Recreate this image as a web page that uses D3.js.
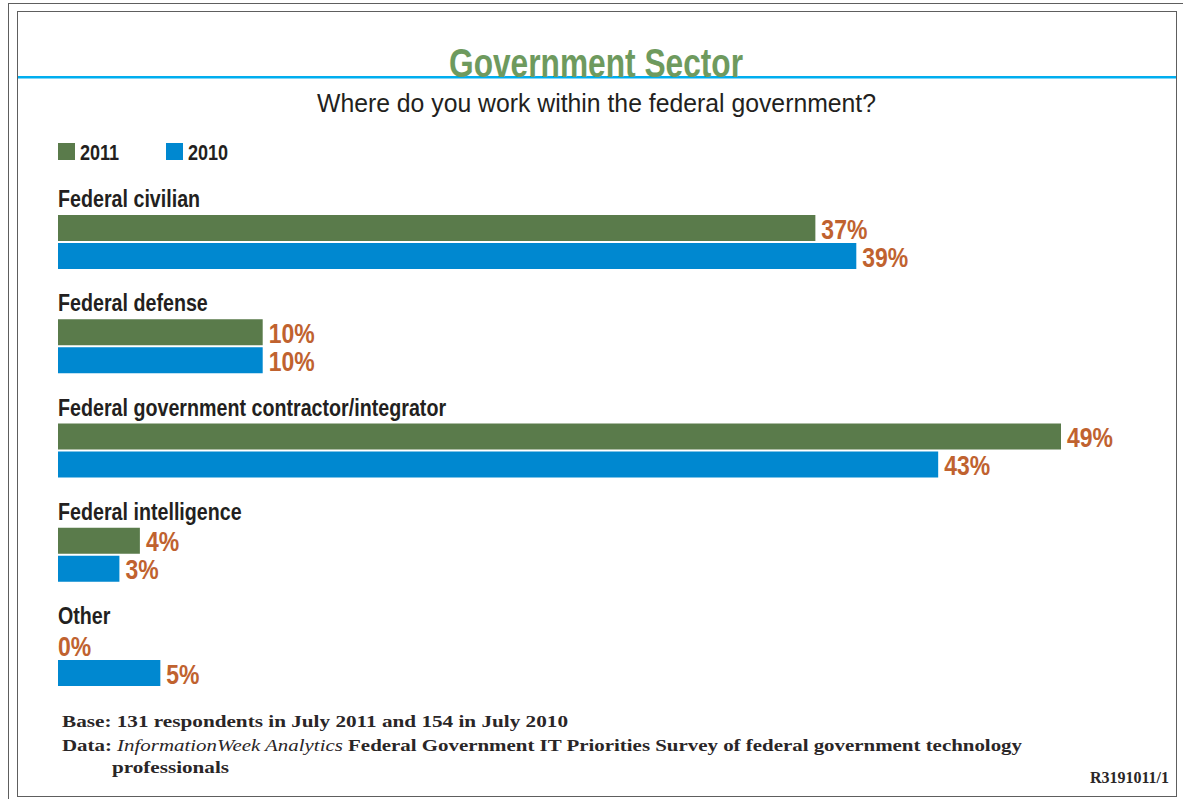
<!DOCTYPE html>
<html>
<head>
<meta charset="utf-8">
<script src="https://cdn.jsdelivr.net/npm/d3@7/dist/d3.min.js"></script>
<style>
  html, body { margin: 0; padding: 0; background: #fff; }
  svg { display: block; }
</style>
</head>
<body>
<svg id="chart" width="1183" height="799"></svg>
<script>
// Survey answers: share of respondents by workplace, 2011 vs 2010
const categories = [
  "Federal civilian",
  "Federal defense",
  "Federal government contractor/integrator",
  "Federal intelligence",
  "Other"
];
const seriesNames = ["2011", "2010"];
const values2011 = [37, 10, 49, 4, 0];
const values2010 = [39, 10, 43, 3, 5];

const title = "Government Sector";
const subtitle = "Where do you work within the federal government?";
const baseNote = "Base: 131 respondents in July 2011 and 154 in July 2010";
const sourceNote = ["Data: ", "InformationWeek Analytics", " Federal Government IT Priorities Survey of federal government technology"];
const sourceNote2 = "professionals";
const reportId = "R3191011/1";

const colors = { "2011": "#5a7b4b", "2010": "#0088d0" };
const labelColor = "#c0622f";
const ink = "#231f20";
const narrow = 0.82; // horizontal squeeze for a condensed look

const svg = d3.select("#chart");

// page frame
const frame = svg.append("g").attr("fill", "none").attr("stroke", "#5e5e5e").attr("stroke-width", 1);
frame.append("line").attr("x1", 8.5).attr("y1", 3).attr("x2", 8.5).attr("y2", 799);
frame.append("line").attr("x1", 8).attr("y1", 3.5).attr("x2", 1183).attr("y2", 3.5);
frame.append("rect").attr("x", 17.5).attr("y", 11.5).attr("width", 1159).attr("height", 785);

// header rule and title
svg.append("rect").attr("x", 18).attr("y", 76).attr("width", 1158).attr("height", 2.5).attr("fill", "#00aeef");
svg.append("text")
  .attr("x", 596).attr("y", 77)
  .attr("text-anchor", "middle")
  .attr("font-family", "Liberation Sans, Arial, sans-serif")
  .attr("font-weight", 700)
  .attr("font-size", 41)
  .attr("fill", "#6e9a5e")
  .attr("textLength", 294).attr("lengthAdjust", "spacingAndGlyphs")
  .text(title);
svg.append("text")
  .attr("x", 596.5).attr("y", 112)
  .attr("text-anchor", "middle")
  .attr("font-family", "Liberation Sans, Arial, sans-serif")
  .attr("font-size", 25)
  .attr("fill", ink)
  .attr("textLength", 559).attr("lengthAdjust", "spacingAndGlyphs")
  .text(subtitle);

// scales
const x = d3.scaleLinear().domain([0, 49]).range([58, 1061]);
const y = d3.scaleBand().domain(categories).range([215, 215 + 104.25 * categories.length]).paddingInner(0).paddingOuter(0);
const ySeries = d3.scaleBand().domain(seriesNames).range([0, 54]).paddingInner(2 / 28);

// legend
const legend = svg.append("g");
const legendX = d3.scalePoint().domain(seriesNames).range([58, 166]);
seriesNames.forEach(s => {
  legend.append("rect").attr("x", legendX(s)).attr("y", 143).attr("width", 17).attr("height", 17).attr("fill", colors[s]);
  legend.append("g")
    .attr("transform", `translate(${legendX(s) + 22},159.5) scale(${narrow},1)`)
    .append("text")
    .attr("font-family", "Liberation Sans, Arial, sans-serif")
    .attr("font-weight", 700).attr("font-size", 22).attr("fill", ink)
    .text(s);
});

// rows
const rows = categories.map((c, i) => ({
  category: c,
  bars: [
    { series: "2011", value: values2011[i] },
    { series: "2010", value: values2010[i] }
  ]
}));

const groups = svg.selectAll("g.row").data(rows).join("g")
  .attr("class", "row")
  .attr("transform", d => `translate(0,${y(d.category)})`);

groups.append("g")
  .attr("transform", `translate(58,-8) scale(${narrow},1)`)
  .append("text")
  .attr("font-family", "Liberation Sans, Arial, sans-serif")
  .attr("font-weight", 700).attr("font-size", 24).attr("fill", ink)
  .text(d => d.category);

groups.selectAll("rect.bar").data(d => d.bars).join("rect")
  .attr("class", "bar")
  .attr("x", x(0))
  .attr("y", d => ySeries(d.series))
  .attr("width", d => x(d.value) - x(0))
  .attr("height", ySeries.bandwidth())
  .attr("fill", d => colors[d.series]);

groups.selectAll("g.val").data(d => d.bars).join("g")
  .attr("class", "val")
  .attr("transform", d => `translate(${x(d.value) + (d.value > 0 ? 6 : 0)},${ySeries(d.series) + ySeries.bandwidth() / 2 + 10.5}) scale(${narrow},1)`)
  .append("text")
  .attr("font-family", "Liberation Sans, Arial, sans-serif")
  .attr("font-weight", 700).attr("font-size", 28).attr("fill", labelColor)
  .text(d => d.value + "%");

// footnotes
const foot = svg.append("g")
  .attr("font-family", "Liberation Serif, Times New Roman, serif")
  .attr("font-weight", 700).attr("font-size", 17).attr("fill", "#2a2627");
foot.append("text").attr("x", 62).attr("y", 727)
  .attr("textLength", 506).attr("lengthAdjust", "spacingAndGlyphs")
  .text(baseNote);
const src = foot.append("text").attr("x", 62).attr("y", 751)
  .attr("textLength", 960).attr("lengthAdjust", "spacingAndGlyphs");
src.append("tspan").text(sourceNote[0]);
src.append("tspan").attr("font-style", "italic").attr("font-weight", 400).text(sourceNote[1]);
src.append("tspan").text(sourceNote[2]);
foot.append("text").attr("x", 112).attr("y", 773)
  .attr("textLength", 117).attr("lengthAdjust", "spacingAndGlyphs")
  .text(sourceNote2);
foot.append("text").attr("x", 1169).attr("y", 783).attr("text-anchor", "end")
  .attr("font-size", 16)
  .text(reportId);
</script>
</body>
</html>
